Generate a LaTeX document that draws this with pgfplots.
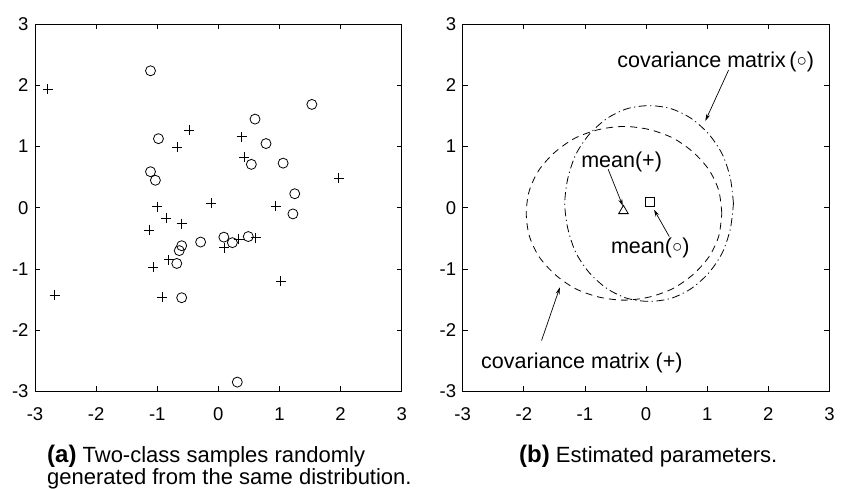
\documentclass[border=0pt]{standalone}
\usepackage{fontspec}
\setmainfont{Liberation Sans}
\usepackage{pgfplots}
\pgfplotsset{compat=1.18}
\usetikzlibrary{arrows.meta}

\pgfplotsset{
  panel/.style={
    anchor=south west,
    scale only axis, width=366.7pt, height=367pt,
    xmin=-3, xmax=3, ymin=-3, ymax=3,
    xtick={-3,-2,-1,0,1,2,3}, ytick={-3,-2,-1,0,1,2,3},
    xticklabels={-3,-2,-1,0,1,2,3}, yticklabels={-3,-2,-1,0,1,2,3},
    tick align=inside, tick pos=both,
    xticklabel pos=lower, yticklabel pos=left,
    major tick length=5pt,
    axis line style={line width=0.9pt},
    tick style={line width=0.8pt, black},
    ticklabel style={font=\fontsize{18.5}{22}\selectfont},
    xticklabel shift=13pt, yticklabel shift=3pt,
    clip=false,
  },
}
\tikzset{
  note/.style={font=\fontsize{21.5}{26}\selectfont},
  arr/.style={line width=0.7pt, -{Stealth[length=7pt,width=4pt]}},
}

\newcommand{\wc}{\raisebox{0.1ex}{\scalebox{0.8}{○}}}

\begin{document}
\begin{tikzpicture}
\path[use as bounding box] (0pt,0pt) rectangle (843pt,489pt);

% (a) samples
\begin{axis}[panel, at={(35pt,97.7pt)}]
  \addplot[only marks, mark=o, mark size=5pt, line width=0.8pt] coordinates {
    (-1.11,2.24) (1.53,1.69) (0.60,1.45) (-0.98,1.13) (0.78,1.05)
    (0.54,0.71) (1.06,0.73) (-1.11,0.59) (-1.03,0.45) (1.25,0.23)
    (1.22,-0.10) (0.09,-0.48) (0.49,-0.47) (0.23,-0.57) (-0.29,-0.56)
    (-0.60,-0.62) (-0.64,-0.70) (-0.68,-0.91) (-0.60,-1.47) (0.31,-2.85)
  };
  \addplot[only marks, mark=+, mark size=5pt, line width=0.8pt] coordinates {
    (-2.79,1.94) (-0.48,1.27) (-0.67,0.99) (0.38,1.16) (0.42,0.83)
    (1.97,0.48) (-1.00,0.02) (-0.12,0.08) (0.94,0.03) (-0.85,-0.17)
    (-0.60,-0.26) (-1.13,-0.37) (0.33,-0.51) (0.61,-0.49) (0.10,-0.65)
    (-0.81,-0.85) (-1.07,-0.97) (1.02,-1.20) (-0.92,-1.46) (-2.68,-1.43)
  };
\end{axis}

% (b) estimated parameters
\begin{axis}[panel, at={(462.7pt,97.7pt)}]
  % covariance (+), dashed
  \addplot[smooth, line width=0.8pt, dash pattern=on 7pt off 5pt] coordinates {
    (1.24,-0.09) (1.19,0.28) (1.03,0.62) (0.77,0.91) (0.44,1.14) (0.05,1.28)
    (-0.36,1.33) (-0.77,1.28) (-1.16,1.14) (-1.49,0.91) (-1.75,0.62) (-1.91,0.28)
    (-1.96,-0.09) (-1.91,-0.46) (-1.75,-0.80) (-1.49,-1.09) (-1.16,-1.32) (-0.77,-1.46)
    (-0.36,-1.51) (0.05,-1.46) (0.44,-1.32) (0.77,-1.09) (1.03,-0.80) (1.19,-0.46)
    (1.24,-0.09)
  };
  % covariance (o), dash-dot
  \addplot[smooth, line width=0.8pt, dash pattern=on 8pt off 3.5pt on 1.2pt off 3.5pt] coordinates {
    (1.43,0.07) (1.38,0.48) (1.25,0.87) (1.03,1.20) (0.74,1.46) (0.41,1.62)
    (0.05,1.67) (-0.31,1.62) (-0.64,1.46) (-0.93,1.20) (-1.15,0.87) (-1.28,0.48)
    (-1.33,0.07) (-1.28,-0.34) (-1.15,-0.73) (-0.93,-1.06) (-0.64,-1.32) (-0.31,-1.48)
    (0.05,-1.53) (0.41,-1.48) (0.74,-1.32) (1.03,-1.06) (1.25,-0.73) (1.38,-0.34)
    (1.43,0.07)
  };
  % means
  \addplot[only marks, mark=triangle, mark size=5.5pt, line width=0.8pt] coordinates {(-0.37,-0.05)};
  \addplot[only marks, mark=square, mark size=4.5pt, line width=0.8pt] coordinates {(0.07,0.09)};
  % arrows
  \addplot[arr] coordinates {(1.35,2.25) (0.97,1.42)};
  \addplot[arr] coordinates {(-0.62,0.63) (-0.38,0.03)};
  \addplot[arr] coordinates {(0.38,-0.47) (0.13,-0.03)};
  \addplot[arr] coordinates {(-1.71,-2.17) (-1.41,-1.30)};
  \node[note] at (axis cs:1.14,2.39) {covariance matrix\,(\wc)};
  \node[note] at (axis cs:-0.40,0.75) {mean(+)};
  \node[note] at (axis cs:0.07,-0.66) {mean(\wc)};
  \node[note] at (axis cs:-1.05,-2.54) {covariance matrix (+)};
\end{axis}

% captions
\node[anchor=base west, inner sep=0pt] at (47pt,26pt)
  {\fontsize{24}{26}\selectfont\bfseries (a)\fontsize{22}{26}\mdseries\selectfont{} Two-class samples randomly};
\node[anchor=base west, inner sep=0pt, font=\fontsize{22}{26}\selectfont] at (47pt,4pt)
  {generated from the same distribution.};
\node[anchor=base west, inner sep=0pt] at (519pt,26pt)
  {\fontsize{24}{26}\selectfont\bfseries (b)\fontsize{22}{26}\mdseries\selectfont{} Estimated parameters.};
\end{tikzpicture}
\end{document}
